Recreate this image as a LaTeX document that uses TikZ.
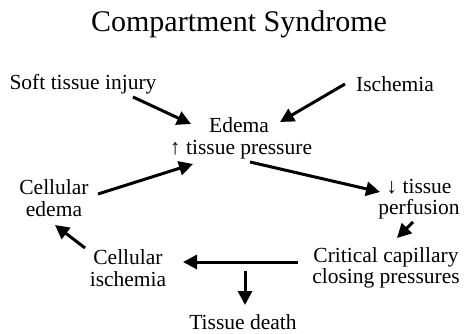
\documentclass[tikz,border=0pt]{standalone}
\usepackage{fontspec}
\setmainfont{Liberation Serif}
\usetikzlibrary{arrows.meta,calc}
\begin{document}
\begin{tikzpicture}[x=1pt,y=-1pt,
  lbl/.style={inner sep=0pt, align=center, font=\rmfamily\fontsize{21.5}{21.5}\selectfont},
  ttl/.style={inner sep=0pt, font=\rmfamily\fontsize{30}{30}\selectfont},
  arr/.style={line width=3pt, -{Triangle[length=14pt,width=14pt]}}]
\useasboundingbox (0,0) rectangle (465,334);
\node[ttl] (title) at (239,24) {Compartment Syndrome};
\node[lbl] (soft) at (83,84) {Soft tissue injury};
\node[lbl] (isch) at (395,84) {Ischemia};
\node[lbl] (edema) at (239,125) {Edema};
\node[lbl] (press) at (241,150) {↑ tissue pressure};
\node[lbl] (celled) at (54,198) {Cellular\\edema};
\node[lbl] (perf) at (419,199) {↓ tissue\\perfusion};
\node[lbl] (cellisch) at (128,268) {Cellular\\ischemia};
\node[lbl] (crit) at (386,268) {Critical capillary\\closing pressures};
\node[lbl] (death) at (243,322) {Tissue death};
\draw[arr] ($(soft)+(50,13)$) -- ($(edema)+(-48,-1)$);
\draw[arr] ($(isch)+(-50,0)$) -- ($(edema)+(41,-3)$);
\draw[arr] ($(celled)+(44,-4)$) -- ($(press)+(-48,14)$);
\draw[arr] ($(press)+(9,12)$) -- ($(perf)+(-39,-7)$);
\draw[arr] ($(perf)+(-6,23)$) -- ($(crit)+(11,-30)$);
\draw[arr] ($(cellisch)+(-43,-20)$) -- ($(celled)+(1,27)$);
\draw[arr] ($(crit)+(-88,-6)$) -- ($(cellisch)+(55,-6)$);
\draw[arr] ($(death)+(2,-51)$) -- ($(death)+(2,-17)$);
\end{tikzpicture}
\end{document}
